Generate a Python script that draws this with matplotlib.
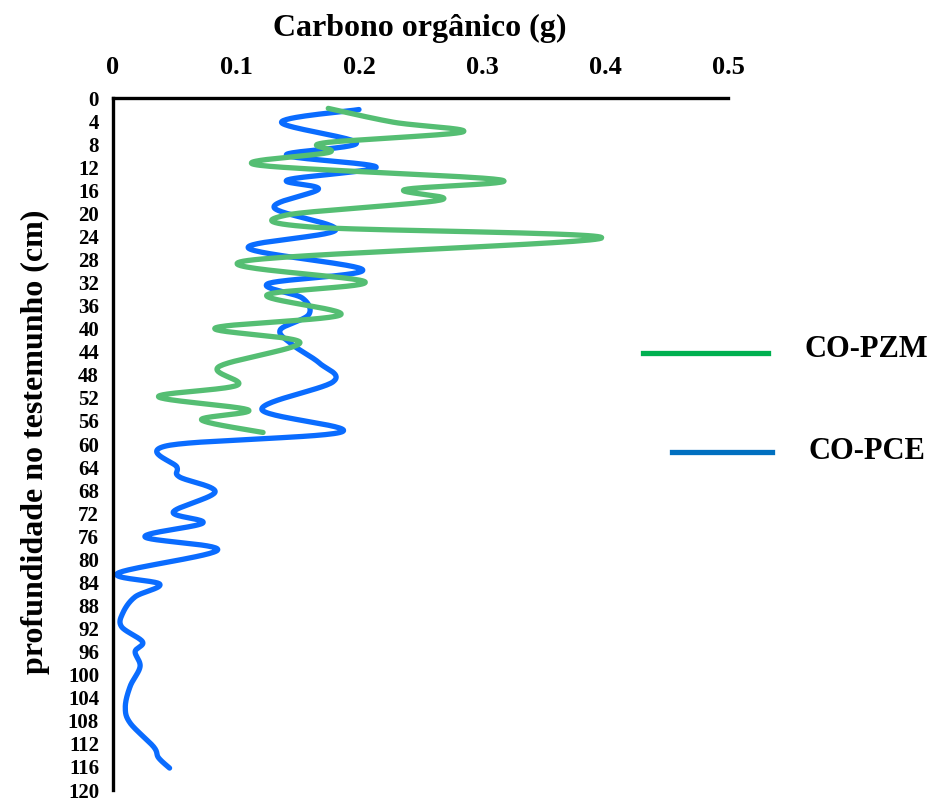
import numpy as np
import matplotlib
matplotlib.use("Agg")
import matplotlib.pyplot as plt
from matplotlib.lines import Line2D

# ---- data ----
pce_depth = [2, 4.2, 7.8, 9.9, 12, 14.2, 15.8, 19, 22.9, 26, 29.8, 32.2, 34.7, 37.6, 40.2,
             42.8, 46, 49.2, 54, 57.9, 60.3, 64, 65.7, 68.3, 71.8, 73.7, 76.1, 78.4, 82.4,
             84.3, 86.5, 89.3, 91.7, 94.3, 96, 98.6, 102, 105.6, 108.4, 112.5, 114.4, 116.2]
pce_val = [0.200, 0.137, 0.198, 0.141, 0.214, 0.142, 0.167, 0.131, 0.181, 0.110, 0.203, 0.126,
           0.154, 0.159, 0.136, 0.146, 0.168, 0.179, 0.121, 0.186, 0.044, 0.052, 0.054, 0.083,
           0.049, 0.073, 0.026, 0.085, 0.004, 0.038, 0.018, 0.008, 0.007, 0.024, 0.018, 0.022,
           0.014, 0.010, 0.014, 0.033, 0.037, 0.046]

pzm_depth = [1.8, 4.2, 5.9, 7.8, 9.4, 11.6, 14.2, 15.9, 17.7, 20.3, 22.4, 24.3, 28.3, 31.9,
             34.2, 37.6, 39.9, 42.4, 46.6, 49.8, 51.8, 54.1, 55.8, 58]
pzm_val = [0.175, 0.228, 0.284, 0.171, 0.176, 0.117, 0.315, 0.237, 0.266, 0.141, 0.163, 0.397,
           0.106, 0.205, 0.125, 0.185, 0.083, 0.152, 0.086, 0.101, 0.037, 0.110, 0.072, 0.122]

x_ticks = [0, 0.1, 0.2, 0.3, 0.4, 0.5]
x_tick_labels = ["0", "0.1", "0.2", "0.3", "0.4", "0.5"]
y_ticks = list(range(0, 121, 4))

series_names = ["CO-PZM", "CO-PCE"]
x_title = "Carbono orgânico (g)"
y_title = "profundidade no testemunho (cm)"

XMAX, YMAX = 0.5, 120
W_PX, H_PX = 615.0, 692.0


def smooth(xs, ys, n=30):
    """Excel-like smoothed line (Catmull-Rom Bezier) in pixel-scaled space."""
    P = np.column_stack([np.asarray(xs) / XMAX * W_PX, np.asarray(ys) / YMAX * H_PX])
    m = len(P)
    out = []
    for i in range(m - 1):
        p0 = P[i - 1] if i > 0 else P[i]
        p1 = P[i]
        p2 = P[i + 1]
        p3 = P[i + 2] if i + 2 < m else P[i + 1]
        c1 = p1 + (p2 - p0) / 6.0
        c2 = p2 - (p3 - p1) / 6.0
        t = np.linspace(0, 1, n, endpoint=(i == m - 2))[:, None]
        b = ((1 - t) ** 3) * p1 + 3 * ((1 - t) ** 2) * t * c1 + 3 * (1 - t) * t ** 2 * c2 + t ** 3 * p2
        out.append(b)
    B = np.vstack(out)
    return B[:, 0] / W_PX * XMAX, B[:, 1] / H_PX * YMAX


plt.rcParams['font.family'] = ['Liberation Serif', 'DejaVu Serif']
plt.rcParams['font.weight'] = 'bold'

fig = plt.figure(figsize=(9.36, 8.01), dpi=100)
ax = fig.add_axes([113 / 936, 1 - 790 / 801, 615 / 936, 692 / 801])

gx, gy = smooth(pzm_val, pzm_depth)
bx, by = smooth(pce_val, pce_depth)
ax.plot(bx, by, color='#0A6CFF', lw=3.8, solid_capstyle='round', solid_joinstyle='round')
ax.plot(gx, gy, color='#55BE73', lw=3.8, solid_capstyle='round', solid_joinstyle='round')

ax.set_xlim(0, XMAX)
ax.set_ylim(YMAX, 0)
ax.xaxis.tick_top()
ax.set_xticks(x_ticks)
ax.set_xticklabels(x_tick_labels)
ax.set_yticks(y_ticks)
ax.tick_params(axis='x', length=0, pad=14, labelsize=19)
ax.tick_params(axis='y', length=0, pad=10, labelsize=15)
for lab in ax.get_xticklabels() + ax.get_yticklabels():
    lab.set_fontweight('bold')

for s in ['right', 'bottom']:
    ax.spines[s].set_visible(False)
for s in ['top', 'left']:
    ax.spines[s].set_linewidth(2.4)
    ax.spines[s].set_color('black')

fig.text(420 / 936, 1 - 28 / 801, x_title, fontsize=23, fontweight='bold', ha='center', va='center')
fig.text(35 / 936, 1 - 442 / 801, y_title, fontsize=23, fontweight='bold', ha='center', va='center',
         rotation=90)

# legend drawn manually
fig.add_artist(Line2D([643 / 936, 768 / 936], [1 - 353 / 801] * 2, color='#00B050', lw=3.8,
                      transform=fig.transFigure))
fig.add_artist(Line2D([672 / 936, 772 / 936], [1 - 452 / 801] * 2, color='#0070C0', lw=3.8,
                      transform=fig.transFigure))
fig.text(805 / 936, 1 - 350 / 801, series_names[0], fontsize=22, fontweight='bold', va='center', ha='left')
fig.text(808 / 936, 1 - 451 / 801, series_names[1], fontsize=22, fontweight='bold', va='center', ha='left')

fig.savefig("out.png", dpi=100)
